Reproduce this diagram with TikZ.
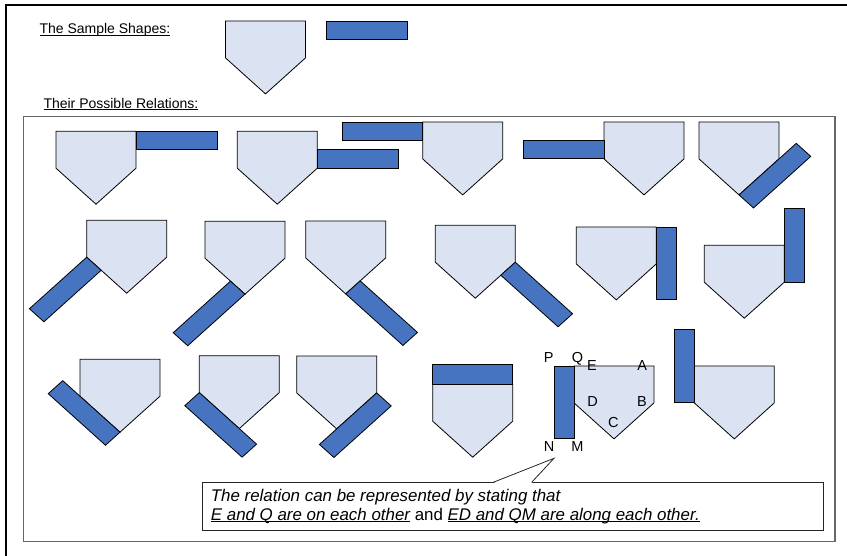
\documentclass[tikz,border=0pt]{standalone}
\usepackage{fontspec}
\setmainfont{Liberation Sans}
\usepackage{tikz}

\definecolor{platefill}{RGB}{219,226,241}
\definecolor{barfill}{RGB}{70,116,193}

\newcommand{\uline}[1]{\underline{\smash{#1}}}
\newcommand{\drawplate}{\draw[homeplate] (0,0) -- (80,0) -- (80,41) -- (40,81) -- (0,41) -- cycle;}

\begin{document}
\begin{tikzpicture}[
        x=1pt, y=-1pt,
        homeplate/.style={draw=black, fill=platefill, line width=0.8pt},
        bluebar/.style={draw=black, fill=barfill, line width=0.8pt},
        relation/.style={shift={#1}, yscale=0.9},
        headline/.style={font=\fontsize{14}{16}\selectfont, inner sep=0pt, anchor=base west},
        pointname/.style={font=\fontsize{14.5}{16}\selectfont, inner sep=0pt, anchor=base},
        notetext/.style={font=\fontsize{16.9}{18}\selectfont\itshape, inner sep=0pt, anchor=base west},
        notebox/.style={draw=black!85, fill=white, line width=0.8pt, minimum width=620.6pt, minimum height=47.8pt, inner sep=0pt},
        noteline/.style={draw=black!85, line width=0.8pt},
        pageframe/.style={line width=2pt},
        panel/.style={draw=black!60, line width=1.2pt}
    ]
    \useasboundingbox (0,0) rectangle (847,556);
    \draw[pageframe] (6,556) -- (6,5) -- (847,5);
    \draw[panel] (23.3,116.7) rectangle (835,541.3);

    \node[headline] (sample) at (39.3,34) {\uline{The Sample Shapes:}};
    \node[headline] (relations) at (43.3,108.3) {\uline{Their Possible Relations:}};

    \begin{scope}[relation={(225.5,21)}]
        \drawplate
        \draw[bluebar] (100.5,0) rectangle (181.5,20.5);
    \end{scope}

    \begin{scope}[relation={(56,131.3)}]
        \drawplate
        \draw[bluebar] (80,0) rectangle (161,20.5);
    \end{scope}
    \begin{scope}[relation={(237.3,131.3)}]
        \drawplate
        \draw[bluebar] (80,20.5) rectangle (161,41);
    \end{scope}
    \begin{scope}[relation={(422.7,122)}]
        \drawplate
        \draw[bluebar] (-80.5,0) rectangle (0,20.5);
    \end{scope}
    \begin{scope}[relation={(604,122)}]
        \drawplate
        \draw[bluebar] (-80.7,20.5) rectangle (0,41);
    \end{scope}
    \begin{scope}[relation={(699,122)}]
        \drawplate
        \draw[bluebar, shift={(40,81)}, rotate=45] (0,0) rectangle (81,20.5);
    \end{scope}

    \begin{scope}[relation={(86.7,220.3)}]
        \drawplate
        \draw[bluebar, shift={(0,41)}, rotate=225] (0,0) rectangle (81,-20.5);
    \end{scope}
    \begin{scope}[relation={(205,221.3)}]
        \drawplate
        \draw[bluebar, shift={(40,81)}, rotate=225] (0,0) rectangle (81,20.5);
    \end{scope}
    \begin{scope}[relation={(305.7,221)}]
        \drawplate
        \draw[bluebar, shift={(40,81)}, rotate=-45] (0,0) rectangle (81,-20.5);
    \end{scope}
    \begin{scope}[relation={(435.3,225.3)}]
        \drawplate
        \draw[bluebar, shift={(80,41)}, rotate=-45] (0,0) rectangle (81,20.5);
    \end{scope}
    \begin{scope}[relation={(576.3,227)}]
        \drawplate
        \draw[bluebar] (80,0) rectangle (100,81);
    \end{scope}
    \begin{scope}[relation={(704.3,245.3)}]
        \drawplate
        \draw[bluebar] (80,-40.5) rectangle (100,41);
    \end{scope}

    \begin{scope}[relation={(80,359.3)}]
        \drawplate
        \draw[bluebar, shift={(40,81)}, rotate=135] (0,0) rectangle (81,-20.5);
    \end{scope}
    \begin{scope}[relation={(199.3,355.7)}]
        \drawplate
        \draw[bluebar, shift={(0,41)}, rotate=-45] (0,0) rectangle (81,20.5);
    \end{scope}
    \begin{scope}[relation={(296.7,356)}]
        \drawplate
        \draw[bluebar, shift={(80,41)}, rotate=225] (0,0) rectangle (81,-20.5);
    \end{scope}
    \begin{scope}[relation={(432.7,384.3)}]
        \drawplate
        \draw[bluebar] (0,-22) rectangle (80,0);
    \end{scope}
    \begin{scope}[relation={(574,366)}]
        \drawplate
        \draw[bluebar] (-20,0) rectangle (0,81);
    \end{scope}
    \begin{scope}[relation={(694.3,366)}]
        \drawplate
        \draw[bluebar] (-20,-40.5) rectangle (0,41);
    \end{scope}

    \node[pointname] (P) at (548.7,362.7) {P};
    \node[pointname] (Q) at (577.5,362.7) {Q};
    \node[pointname] (E) at (592,370.7) {E};
    \node[pointname] (A) at (642.3,370.7) {A};
    \node[pointname] (D) at (592.5,406.7) {D};
    \node[pointname] (B) at (642,406.7) {B};
    \node[pointname] (C) at (613.3,427.3) {C};
    \node[pointname] (N) at (549,451.7) {N};
    \node[pointname] (M) at (577.5,451.7) {M};

    \node[notebox] (note) at (513,506.6) {};
    \coordinate (tip) at (554,458.3);
    \fill[white] ([xshift=-19.7pt, yshift=-0.7pt]note.north) -- (tip) -- ([xshift=18.7pt, yshift=-0.7pt]note.north) -- cycle;
    \draw[noteline] ([xshift=-19.7pt]note.north) -- (tip) -- ([xshift=18.7pt]note.north);
    \node[notetext] (line1) at (210.7,501.7) {The relation can be represented by stating that};
    \node[notetext] (line2) at (210.7,520) {\uline{E and Q are on each other} {\upshape and} \uline{ED and QM are along each other.}};
\end{tikzpicture}
\end{document}
